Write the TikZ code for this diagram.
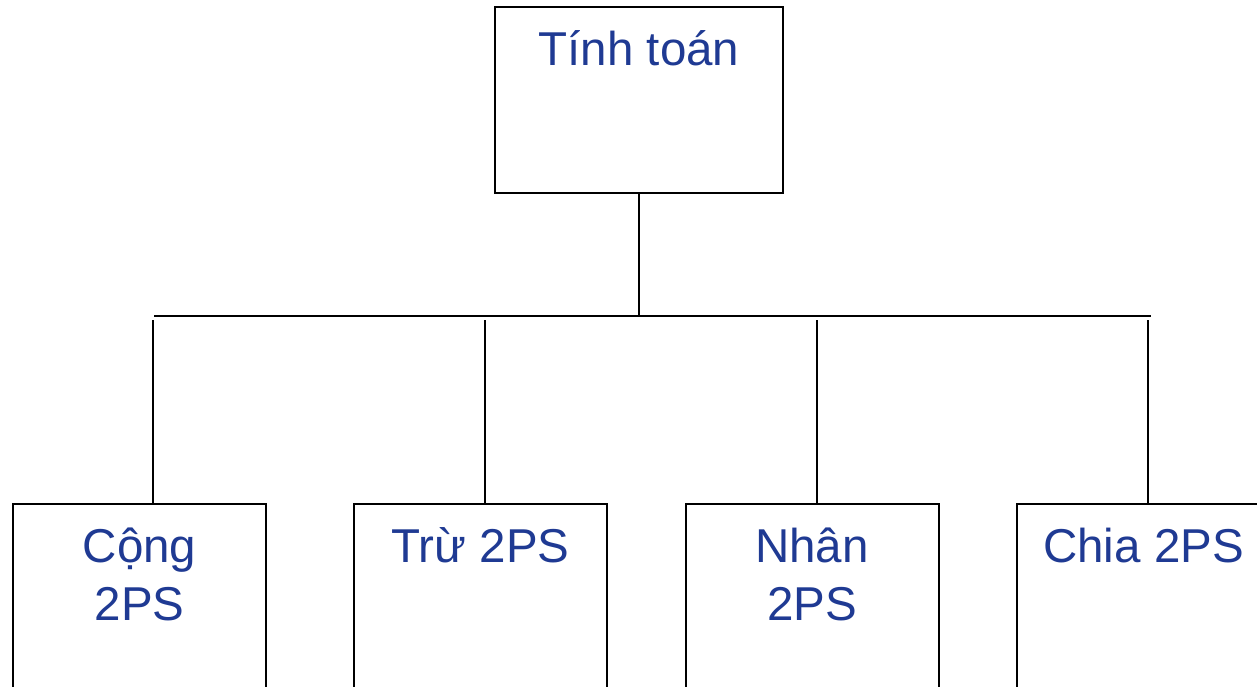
\documentclass[tikz,border=0pt]{standalone}
\usepackage{fontspec}
\setmainfont{Liberation Sans}
\definecolor{labelblue}{RGB}{31,58,147}
\begin{document}
\begin{tikzpicture}[x=1pt,y=-1pt,
  box/.style={draw=black,line width=2pt,minimum width=288pt,minimum height=185pt,inner sep=0pt},
  subbox/.style={box,minimum width=253pt},
  lbl/.style={text=labelblue,font=\fontsize{47.5}{58}\selectfont,align=center,anchor=base,inner sep=0pt},
  wire/.style={draw=black,line width=2pt}]
  \clip (0,0) rectangle (1257,687);
  \fill[white] (0,0) rectangle (1257,687);

  % root box and its caption
  \node[box] (root) at (639,100) {};
  \node[lbl] (roottxt) at (639,66) {Tính toán};

  % child boxes
  \node[subbox] (add) at (139.5,596.5) {};
  \node[subbox] (sub) at (480.5,596.5) {};
  \node[subbox] (mul) at (812,596.5) {};
  \node[subbox] (div) at (1143.5,596.5) {};

  % captions (a two-line node sits on the baseline of its last line)
  \node[lbl] (addtxt) at (139.5,620) {Cộng\\2PS};
  \node[lbl] (subtxt) at (480.5,562) {Trừ 2PS};
  \node[lbl] (multxt) at (812,620) {Nhân\\2PS};
  \node[lbl] (divtxt) at (1143.5,562) {Chia 2PS};

  % bus line and drop points
  \coordinate (busL) at (154,316);
  \coordinate (busR) at (1151,316);
  \coordinate (busM) at (639,316);
  \coordinate (d1) at (153,320);
  \coordinate (d2) at (485,320);
  \coordinate (d3) at (817,320);
  \coordinate (d4) at (1148,320);

  \draw[wire] (root.south) -- (busM);
  \draw[wire] (busL) -- (busR);
  \draw[wire] (d1) -- (d1 |- add.north);
  \draw[wire] (d2) -- (d2 |- sub.north);
  \draw[wire] (d3) -- (d3 |- mul.north);
  \draw[wire] (d4) -- (d4 |- div.north);
\end{tikzpicture}
\end{document}
